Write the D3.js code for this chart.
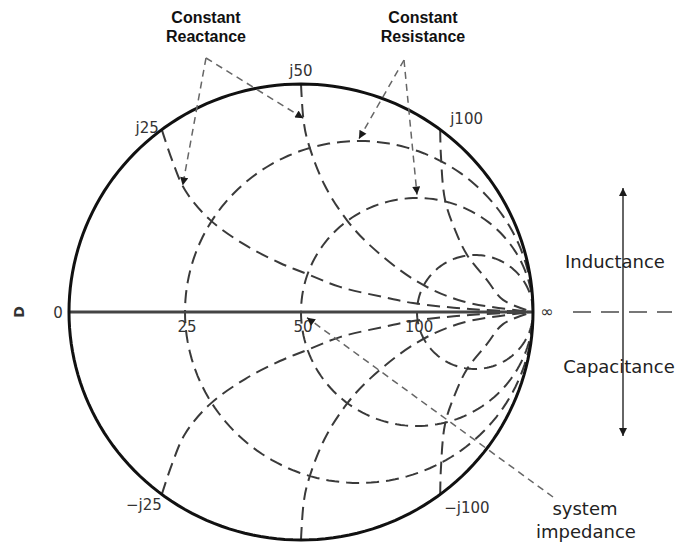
<!DOCTYPE html>
<html>
<head>
<meta charset="utf-8">
<script src="https://cdn.jsdelivr.net/npm/d3@7"></script>
<style>
  body { margin: 0; background: #fff; }
</style>
</head>
<body>
<svg id="chart"></svg>
<script>
let width = 681;
let height = 545;

// resistance circles (ohms) and where each one cuts the real axis (normalised)
const resistanceLabels = ["25", "50", "100"];
const resistanceCuts = [-0.5, 0, 0.5];

// reactance arcs: rim labels and normalised reactance (x / 50 ohm)
const reactanceLabels = ["j25", "j50", "j100"];
const reactanceValues = [0.5, 1, 2];
const negReactanceLabels = ["\u2212j25", "", "\u2212j100"];

// points traced along the upper arcs (u, v); lower arcs are mirrored
const arcJ25 = [[-0.6, 0.8], [-0.556, 0.667], [-0.5, 0.535], [-0.392, 0.404], [-0.241, 0.294],
                [-0.091, 0.215], [0.026, 0.167], [0.168, 0.11], [0.353, 0.066], [0.483, 0.039],
                [0.728, 0.013], [1, 0]];
const arcJ50 = [[0, 1], [0.01, 0.85], [0.026, 0.76], [0.1, 0.56], [0.2, 0.4], [0.3, 0.29],
                [0.5, 0.134], [0.7, 0.046], [1, 0]];
const arcJ100 = [[0.6, 0.8], [0.603, 0.689], [0.621, 0.491], [0.664, 0.36], [0.716, 0.25],
                 [0.802, 0.14], [0.871, 0.053], [1, 0]];
const arcs = [arcJ25, arcJ50, arcJ100];

let svg = d3.select("#chart")
    .attr("width", width)
    .attr("height", height);

let scales = {};
scales.u = d3.scaleLinear().domain([-1, 1]).range([69, 533]);
scales.v = d3.scaleLinear().domain([-1, 1]).range([540, 84]);

let line = d3.line()
    .x(d => scales.u(d[0]))
    .y(d => scales.v(d[1]));
let smooth = d3.line()
    .x(d => scales.u(d[0]))
    .y(d => scales.v(d[1]))
    .curve(d3.curveCatmullRom.alpha(0.5));

function circlePts(cu, r) {
    return d3.range(0, 361, 2).map(a => [cu + r * Math.cos(a * Math.PI / 180), r * Math.sin(a * Math.PI / 180)]);
}

// arrowheads
let defs = svg.append("defs");
defs.append("marker")
    .attr("id", "head")
    .attr("viewBox", "0 0 10 10")
    .attr("refX", 10).attr("refY", 5)
    .attr("markerWidth", 9).attr("markerHeight", 8)
    .attr("markerUnits", "userSpaceOnUse")
    .attr("orient", "auto-start-reverse")
    .append("path").attr("d", "M0,0L10,5L0,10z").attr("fill", "#1a1a1a");

let grid = svg.append("g")
    .attr("fill", "none")
    .attr("stroke", "#3a3a3a")
    .attr("stroke-width", 2)
    .attr("stroke-dasharray", "13,7");

// constant resistance circles
grid.selectAll("path.res")
    .data(resistanceCuts)
    .enter().append("path")
    .attr("class", "res")
    .attr("d", c => line(circlePts((c + 1) / 2, (1 - c) / 2)));

// constant reactance arcs, upper and lower
grid.selectAll("path.xup")
    .data(arcs)
    .enter().append("path")
    .attr("class", "xup")
    .attr("d", d => smooth(d));
grid.selectAll("path.xdn")
    .data(arcs)
    .enter().append("path")
    .attr("class", "xdn")
    .attr("d", d => smooth(d.map(p => [p[0], -p[1]])));

// real axis
svg.append("line")
    .attr("x1", scales.u(-1)).attr("x2", scales.u(1))
    .attr("y1", scales.v(0)).attr("y2", scales.v(0))
    .attr("stroke", "#444").attr("stroke-width", 3);
svg.append("line")
    .attr("x1", 573).attr("x2", 672)
    .attr("y1", scales.v(0)).attr("y2", scales.v(0))
    .attr("stroke", "#777").attr("stroke-width", 2)
    .attr("stroke-dasharray", "18,10");

// outer rim
svg.append("path")
    .attr("d", line(circlePts(0, 1)))
    .attr("fill", "none")
    .attr("stroke", "#111")
    .attr("stroke-width", 3);

let labelFont = "DejaVu Sans, sans-serif";

// axis labels
svg.selectAll("text.res")
    .data(resistanceLabels)
    .enter().append("text")
    .attr("class", "res")
    .attr("x", (d, i) => scales.u(resistanceCuts[i]) + 2)
    .attr("y", scales.v(0) + 20)
    .attr("text-anchor", "middle")
    .style("font", "15px " + labelFont)
    .style("fill", "#333")
    .text(d => d);
svg.append("text")
    .attr("x", scales.u(-1) - 11).attr("y", scales.v(0) + 6)
    .attr("text-anchor", "middle")
    .style("font", "15px " + labelFont).style("fill", "#333")
    .text("0");
svg.append("text")
    .attr("x", scales.u(1) + 14).attr("y", scales.v(0) + 5)
    .attr("text-anchor", "middle")
    .style("font", "16px " + labelFont).style("fill", "#333")
    .text("\u221e");
svg.append("text")
    .attr("transform", `translate(24, ${scales.v(0)}) rotate(-90)`)
    .attr("text-anchor", "middle")
    .style("font", "bold 14px " + labelFont).style("fill", "#333")
    .text("D");

// rim labels
function rim(xv) {
    return [(xv * xv - 1) / (xv * xv + 1), 2 * xv / (xv * xv + 1)];
}
const upOffset = [[-3, 3, "end"], [0, -8, "middle"], [10, -6, "start"]];
const dnOffset = [[0, 16, "end"], [0, 0, "middle"], [4, 19, "start"]];

svg.selectAll("text.xup")
    .data(reactanceLabels)
    .enter().append("text")
    .attr("class", "xup")
    .attr("x", (d, i) => scales.u(rim(reactanceValues[i])[0]) + upOffset[i][0])
    .attr("y", (d, i) => scales.v(rim(reactanceValues[i])[1]) + upOffset[i][1])
    .attr("text-anchor", (d, i) => upOffset[i][2])
    .style("font", "15px " + labelFont).style("fill", "#333")
    .text(d => d);
svg.selectAll("text.xdn")
    .data(negReactanceLabels)
    .enter().append("text")
    .attr("class", "xdn")
    .attr("x", (d, i) => scales.u(rim(reactanceValues[i])[0]) + dnOffset[i][0])
    .attr("y", (d, i) => scales.v(-rim(reactanceValues[i])[1]) + dnOffset[i][1])
    .attr("text-anchor", (d, i) => dnOffset[i][2])
    .style("font", "15px " + labelFont).style("fill", "#333")
    .text(d => d);

// callouts
let callout = svg.append("g")
    .attr("fill", "none")
    .attr("stroke", "#666")
    .attr("stroke-width", 1.5)
    .attr("stroke-dasharray", "7,5");

function arrow(from, to) {
    callout.append("line")
        .attr("x1", from[0]).attr("y1", from[1])
        .attr("x2", scales.u(to[0])).attr("y2", scales.v(to[1]))
        .attr("marker-end", "url(#head)");
}
arrow([206, 58], [-0.51, 0.555]);
arrow([206, 58], arcJ50[1]);
arrow([404, 60], [0.25, 0.76]);
arrow([404, 60], [0.5, 0.515]);
arrow([553, 497], [0.026, -0.025]);

let titleFont = "bold 16px 'Liberation Sans', Arial, sans-serif";
[["Constant", 206, 23], ["Reactance", 206, 42], ["Constant", 423, 23], ["Resistance", 423, 42]]
    .forEach(t => {
        svg.append("text")
            .attr("x", t[1]).attr("y", t[2])
            .attr("text-anchor", "middle")
            .style("font", titleFont).style("fill", "#111")
            .text(t[0]);
    });

// inductance / capacitance double arrow
svg.append("line")
    .attr("x1", 623).attr("x2", 623)
    .attr("y1", 188).attr("y2", 436)
    .attr("stroke", "#333").attr("stroke-width", 1.5)
    .attr("marker-start", "url(#head)")
    .attr("marker-end", "url(#head)");

let sideFont = "18px " + labelFont;
[["Inductance", 615, 268], ["Capacitance", 619, 373], ["system", 585, 515], ["impedance", 586, 538]]
    .forEach(t => {
        svg.append("text")
            .attr("x", t[1]).attr("y", t[2])
            .attr("text-anchor", "middle")
            .style("font", sideFont).style("fill", "#222")
            .text(t[0]);
    });
</script>
</body>
</html>
